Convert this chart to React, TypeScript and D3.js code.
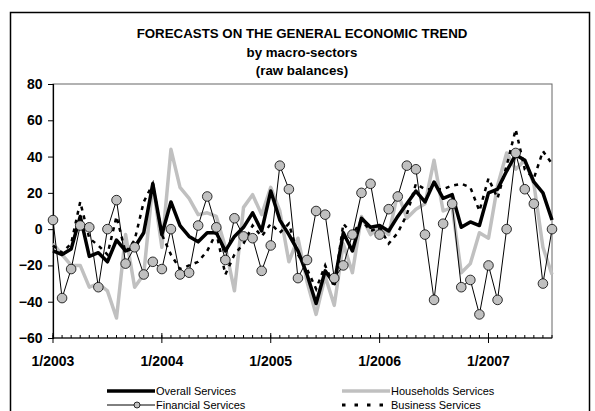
import React, { useEffect, useRef } from 'react';
import * as d3 from 'd3';

// month categories Jan 2003 .. Aug 2007
const years = [2003, 2004, 2005, 2006, 2007];
const months: string[] = [];
years.forEach(y => {
  for (let m = 1; m <= 12; m++) months.push(`${m}/${y}`);
});
const categories = months.slice(0, 56);

const yTicks = [-60, -40, -20, 0, 20, 40, 60, 80];

const overall = [-12, -14, -11, 7, -15, -13, -18, -6, -12, -10, -2, 25, -3, 15, 2, -4, -7, -2, -2, -12, -4, 1, 9, -1, 21, 5, -3, -12, -25, -41, -23, -30, -2, -12, 6, 1, 2, -1, 7, 14, 21, 15, 26, 17, 19, 1, 4, 2, 20, 22, 32, 41, 38, 26, 20, 5];
const households = [-8, -14, -20, -20, -32, -30, -34, -49, -3, -32, -25, 25, -10, 44, 23, 17, 8, 9, 7, -10, -34, 12, 19, 8, 23, 10, -18, -5, -29, -47, -26, -42, -8, -24, 7, -3, 1, -3, 20, 6, 11, 14, 38, 10, 12, -24, -19, -2, -5, 24, 42, 33, 38, 25, -10, -25];
const financial = [5, -38, -22, 2, 1, -32, 0, 16, -19, -10, -25, -18, -22, 0, -25, -24, 2, 18, 1, -17, 6, -4, -5, -23, -9, 35, 22, -27, -17, 10, 8, -27, -20, -3, 20, 25, -3, 11, 18, 35, 33, -3, -39, 3, 14, -32, -28, -47, -20, -39, 0, 42, 22, 14, -30, 0];
const business = [-9, -13, -8, 15, -5, -9, -14, 7, -13, -6, 15, 25, -3, -14, -22, -20, -18, -12, -2, -25, -14, -8, 2, -4, 3, -2, 3, -14, -22, -33, -20, -32, 3, -3, 5, -1, 1, -8, -2, 8, 25, 22, 22, 22, 24, 25, 23, 10, 28, 17, 35, 55, 33, 28, 43, 36];

const titleLines = ['FORECASTS ON THE GENERAL ECONOMIC TREND', 'by macro-sectors', '(raw balances)'];

const FONT = '"Liberation Sans", Arial, sans-serif';
const GREY = '#c0c0c0';

const App: React.FC = () => {
  const svgRef = useRef<SVGSVGElement>(null);

  useEffect(() => {
    const svg = d3.select(svgRef.current);
    svg.selectAll('*').remove();

    const width = 595;
    const height = 411;
    const plot = { left: 53, right: 552, top: 84, bottom: 338 };

    svg.attr('width', width).attr('height', height);

    svg.append('rect')
      .attr('width', width)
      .attr('height', height)
      .attr('fill', '#fff');

    // outer chart frame
    svg.append('rect')
      .attr('x', 10.5)
      .attr('y', 12.5)
      .attr('width', 579)
      .attr('height', 420)
      .attr('fill', 'none')
      .attr('stroke', '#000')
      .attr('stroke-width', 1.5);

    // title
    svg.append('g')
      .selectAll('text')
      .data(titleLines)
      .enter().append('text')
      .attr('x', 302)
      .attr('y', (d, i) => 38 + i * 18.5)
      .attr('text-anchor', 'middle')
      .style('font-family', FONT)
      .style('font-weight', 'bold')
      .style('font-size', '13.3px')
      .text(d => d);

    const x = d3.scalePoint<string>()
      .domain(categories)
      .range([plot.left, plot.right]);

    const y = d3.scaleLinear()
      .domain([-60, 80])
      .range([plot.bottom, plot.top]);

    // plot area border
    svg.append('rect')
      .attr('x', plot.left)
      .attr('y', plot.top)
      .attr('width', plot.right - plot.left)
      .attr('height', plot.bottom - plot.top)
      .attr('fill', 'none')
      .attr('stroke', '#666')
      .attr('stroke-width', 1);

    // y axis
    const yAxis = svg.append('g')
      .attr('transform', `translate(${plot.left},0)`)
      .call(d3.axisLeft(y).tickValues(yTicks).tickSize(5).tickPadding(5.5));
    yAxis.select('.domain').attr('stroke', '#000').attr('stroke-width', 1.2);
    yAxis.selectAll('.tick line').attr('stroke', '#000');
    yAxis.selectAll('.tick text')
      .style('font-family', FONT)
      .style('font-weight', 'bold')
      .style('font-size', '14px')
      .attr('fill', '#000');

    // x axis: minor ticks every month (inside), major every January
    const xg = svg.append('g').attr('transform', `translate(0,${plot.bottom})`);
    xg.append('line')
      .attr('x1', plot.left)
      .attr('x2', plot.right)
      .attr('stroke', '#000')
      .attr('stroke-width', 1.2);
    xg.selectAll('.minor')
      .data(categories)
      .enter().append('line')
      .attr('class', 'minor')
      .attr('x1', d => x(d)!)
      .attr('x2', d => x(d)!)
      .attr('y1', 0)
      .attr('y2', -3)
      .attr('stroke', '#000')
      .attr('stroke-width', 1);
    const januaries = categories.filter(d => d.startsWith('1/'));
    xg.selectAll('.major')
      .data(januaries)
      .enter().append('line')
      .attr('class', 'major')
      .attr('x1', d => x(d)!)
      .attr('x2', d => x(d)!)
      .attr('y1', -5)
      .attr('y2', 5)
      .attr('stroke', '#000')
      .attr('stroke-width', 1);
    xg.selectAll('.xlabel')
      .data(januaries)
      .enter().append('text')
      .attr('class', 'xlabel')
      .attr('x', d => x(d)!)
      .attr('y', 28)
      .attr('text-anchor', 'middle')
      .style('font-family', FONT)
      .style('font-weight', 'bold')
      .style('font-size', '14px')
      .text(d => d);

    const line = d3.line<number>()
      .x((d, i) => x(categories[i])!)
      .y(d => y(d));

    const g = svg.append('g');

    g.append('path')
      .attr('d', line(households)!)
      .attr('fill', 'none')
      .attr('stroke', GREY)
      .attr('stroke-width', 3.5)
      .attr('stroke-linejoin', 'round');

    g.append('path')
      .attr('d', line(overall)!)
      .attr('fill', 'none')
      .attr('stroke', '#000')
      .attr('stroke-width', 3.5)
      .attr('stroke-linejoin', 'round');

    g.append('path')
      .attr('d', line(business)!)
      .attr('fill', 'none')
      .attr('stroke', '#000')
      .attr('stroke-width', 2.5)
      .attr('stroke-dasharray', '4,5');

    g.append('path')
      .attr('d', line(financial)!)
      .attr('fill', 'none')
      .attr('stroke', '#000')
      .attr('stroke-width', 1);

    g.selectAll('.dot')
      .data(financial)
      .enter().append('circle')
      .attr('class', 'dot')
      .attr('cx', (d, i) => x(categories[i])!)
      .attr('cy', d => y(d))
      .attr('r', 4.8)
      .attr('fill', GREY)
      .attr('stroke', '#000')
      .attr('stroke-width', 0.8);

    // legend
    const legendItems = [
      { name: 'Overall Services', x: 107, y: 391, stroke: '#000', w: 3.5, dash: null, dot: false },
      { name: 'Households Services', x: 342, y: 391, stroke: GREY, w: 3.5, dash: null, dot: false },
      { name: 'Financial Services', x: 107, y: 405, stroke: '#000', w: 1, dash: null, dot: true },
      { name: 'Business Services', x: 342, y: 405, stroke: '#000', w: 3, dash: '3.5,9', dot: false }
    ];
    const legend = svg.append('g');
    const items = legend.selectAll('.legend-item')
      .data(legendItems)
      .enter().append('g')
      .attr('class', 'legend-item')
      .attr('transform', d => `translate(${d.x},${d.y})`);
    items.append('line')
      .attr('x1', 0)
      .attr('x2', 48)
      .attr('stroke', d => d.stroke)
      .attr('stroke-width', d => d.w)
      .attr('stroke-dasharray', d => d.dash);
    items.filter(d => d.dot).append('circle')
      .attr('cx', 30)
      .attr('r', 3)
      .attr('fill', GREY)
      .attr('stroke', '#000')
      .attr('stroke-width', 0.8);
    items.append('text')
      .attr('x', 49)
      .attr('dy', '0.35em')
      .style('font-family', FONT)
      .style('font-size', '11px')
      .text(d => d.name);
  }, []);

  return (
    <svg ref={svgRef} style={{ position: 'absolute', left: 0, top: 0 }}></svg>
  );
};

export default App;
